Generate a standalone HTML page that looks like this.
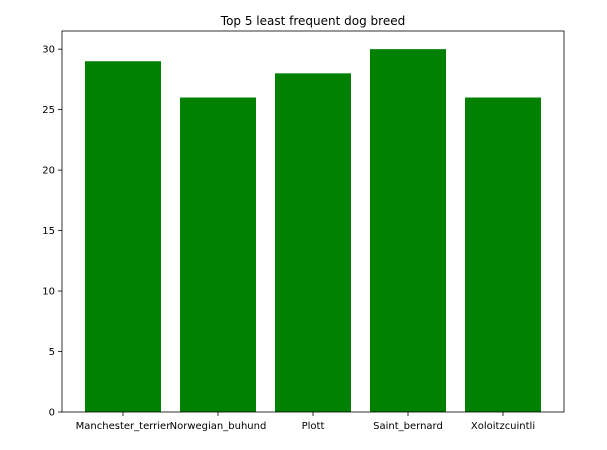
<!DOCTYPE html>
<html><head><meta charset="utf-8"><style>
body{margin:0;background:#fff}
svg{display:block;font-family:"DejaVu Sans","Liberation Sans",sans-serif}
</style></head><body>
<svg id="chart" width="607" height="450"></svg>
<script>
const categories=["Manchester_terrier","Norwegian_buhund","Plott","Saint_bernard","Xoloitzcuintli"];
const counts=[29,26,28,30,26];
const yTicks=[0,5,10,15,20,25,30];
const NS="http://www.w3.org/2000/svg";
const svg=document.getElementById('chart');
const L=62,R=564,T=31,B=412;
const xmin=-0.642,xmax=4.642,ymax=31.5;
const xs=v=>L+(v-xmin)/(xmax-xmin)*(R-L);
const ys=v=>B-v/ymax*(B-T);
function mk(tag,attrs,parent){const e=document.createElementNS(NS,tag);for(const k in attrs)e.setAttribute(k,attrs[k]);(parent||svg).appendChild(e);return e;}
const title=mk('text',{x:(L+R)/2,y:25,'text-anchor':'middle','font-size':12});
title.textContent="Top 5 least frequent dog breed";


categories.forEach((c,i)=>{
  const r=mk('rect',{x:xs(i-0.4),y:ys(counts[i]),width:xs(i+0.4)-xs(i-0.4),height:ys(0)-ys(counts[i]),fill:'#008000'});
  
  
  mk('line',{x1:xs(i),x2:xs(i),y1:B,y2:B+4,stroke:'#000','stroke-width':0.8});
  const t=mk('text',{x:xs(i),y:B+17,'text-anchor':'middle','font-size':10});
  t.textContent=c;
  
  
});
yTicks.forEach(v=>{
  mk('line',{x1:L-4,x2:L,y1:ys(v),y2:ys(v),stroke:'#000','stroke-width':0.8});
  const t=mk('text',{x:L-7,y:ys(v)+3.5,'text-anchor':'end','font-size':10});
  t.textContent=v;
  
  
});
const f=mk('rect',{x:L,y:T,width:R-L,height:B-T,fill:'none',stroke:'#000','stroke-width':0.8});


</script>
</body></html>
